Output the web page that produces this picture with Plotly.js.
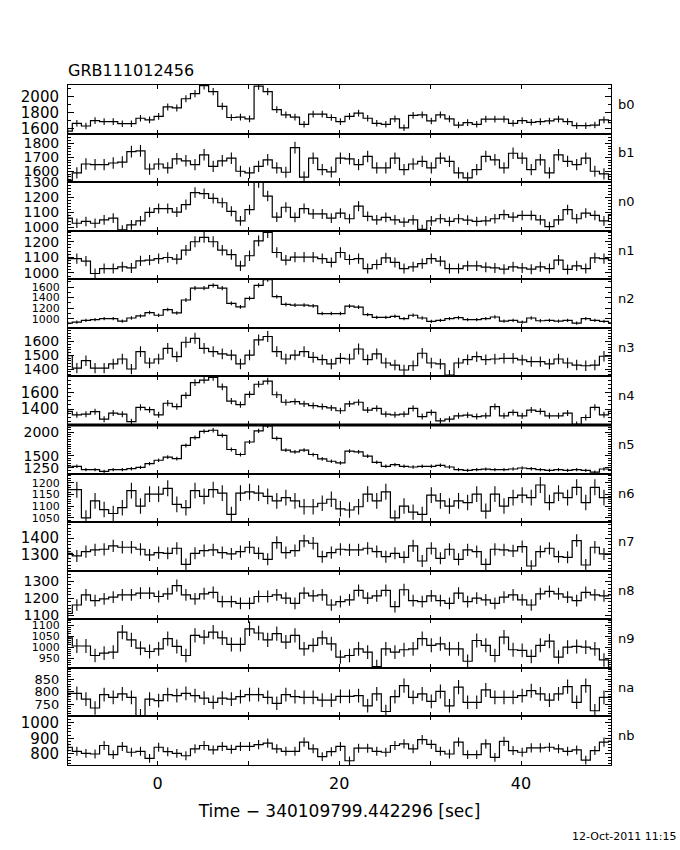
<!DOCTYPE html>
<html>
<head>
<meta charset="utf-8">
<script src="https://cdn.plot.ly/plotly-3.0.1.min.js"></script>
<style>html,body{margin:0;padding:0;background:#fff;}#chart{width:680px;height:850px;}</style>
</head>
<body>
<div id="chart"></div>
<script>
// Bin centres (seconds relative to trigger), 1 s bins
const timeCenters = [-9.875,-8.875,-7.875,-6.875,-5.875,-4.875,-3.875,-2.875,-1.875,-0.875,
  0.125,1.125,2.125,3.125,4.125,5.125,6.125,7.125,8.125,9.125,
  10.125,11.125,12.125,13.125,14.125,15.125,16.125,17.125,18.125,19.125,
  20.125,21.125,22.125,23.125,24.125,25.125,26.125,27.125,28.125,29.125,
  30.125,31.125,32.125,33.125,34.125,35.125,36.125,37.125,38.125,39.125,
  40.125,41.125,42.125,43.125,44.125,45.125,46.125,47.125,48.125,49.125,50.125];

const detectorNames = ['b0','b1','n0','n1','n2','n3','n4','n5','n6','n7','n8','n9','na','nb'];

const b0 = [1570,1668,1634,1702,1689,1689,1663,1663,1731,1710,1753,1872,1859,1974,2038,2136,2063,1880,1740,1744,
  1723,2131,2063,1838,1774,1744,1655,1783,1783,1740,1689,1753,1795,1731,1668,1655,1723,1612,1766,1774,
  1697,1774,1723,1646,1676,1655,1719,1719,1719,1668,1702,1680,1689,1697,1719,1689,1638,1638,1646,1710,1676];
const b1 = [1534,1588,1652,1647,1647,1659,1666,1741,1746,1616,1652,1624,1689,1675,1647,1718,1635,1675,1694,1600,
  1588,1635,1682,1624,1593,1769,1558,1694,1612,1595,1694,1689,1647,1706,1624,1624,1694,1612,1652,1671,
  1624,1694,1671,1588,1553,1612,1706,1682,1624,1729,1694,1612,1682,1588,1718,1671,1647,1694,1600,1581,1541];
const n0 = [1061,1027,1039,1027,1050,1061,982,1016,1043,1100,1125,1125,1102,1152,1232,1225,1193,1164,1107,1043,
  1118,1300,1209,1068,1134,1066,1125,1089,1089,1061,1095,1057,1141,1073,1050,1066,1050,1034,1050,986,
  1043,1057,1039,1057,1048,1039,1043,1057,1084,1068,1080,1080,1050,1005,1050,1118,1057,1095,1080,1043,1084];
const n1 = [1092,1092,1075,996,1028,1028,1039,1032,1077,1082,1092,1099,1088,1146,1200,1228,1200,1146,1118,1045,
  1110,1206,1260,1131,1082,1101,1101,1101,1092,1067,1131,1086,1092,1028,1054,1097,1067,1028,1039,1060,
  1092,1075,1028,1028,1045,1045,1037,1032,1024,1039,1032,1024,1039,1028,1082,1022,1045,1028,1097,1092,1082];
const n2 = [916,935,968,981,1000,1000,955,1013,1052,1116,1065,1174,1110,1355,1581,1581,1632,1581,1290,1226,
  1387,1632,1742,1419,1271,1258,1258,1245,1097,1097,1097,1239,1219,1077,1026,1026,1045,1000,1065,1013,
  948,968,1000,1019,981,981,1000,1032,955,968,935,1013,961,968,955,968,916,1000,968,948,923];
const n3 = [1498,1407,1461,1407,1407,1437,1473,1400,1527,1444,1473,1551,1490,1595,1624,1551,1527,1510,1502,1437,
  1502,1612,1637,1527,1473,1502,1527,1485,1468,1437,1478,1473,1546,1468,1510,1444,1429,1393,1424,1515,
  1444,1437,1356,1444,1468,1490,1468,1473,1478,1478,1466,1454,1454,1437,1473,1444,1429,1424,1429,1493,1493];
const n4 = [1371,1329,1337,1367,1275,1350,1337,1246,1421,1392,1329,1471,1429,1567,1725,1754,1788,1671,1496,1454,
  1579,1704,1742,1575,1483,1492,1463,1442,1429,1413,1379,1463,1483,1387,1408,1337,1329,1337,1408,1308,
  1358,1254,1275,1317,1325,1308,1317,1429,1317,1358,1317,1387,1371,1317,1317,1350,1212,1296,1421,1329,1371];
const n5 = [1268,1283,1211,1211,1176,1211,1211,1232,1261,1338,1410,1474,1445,1721,1884,2018,2040,1933,1636,1530,
  1793,2026,2133,1870,1623,1587,1623,1530,1438,1389,1353,1601,1587,1495,1367,1283,1317,1283,1268,1283,
  1283,1304,1268,1211,1197,1211,1225,1211,1211,1226,1247,1232,1211,1197,1211,1197,1211,1197,1162,1226,1211];
const n6 = [1171,1171,1050,1123,1086,1069,1094,1167,1101,1152,1152,1177,1108,1094,1167,1142,1171,1156,1065,1156,
  1162,1156,1142,1123,1137,1123,1098,1098,1113,1130,1089,1084,1098,1152,1123,1162,1050,1101,1075,1065,
  1148,1123,1101,1123,1116,1152,1079,1152,1101,1137,1148,1137,1191,1116,1156,1137,1181,1116,1181,1137,1137];
const n7 = [1310,1294,1320,1330,1334,1354,1346,1346,1334,1300,1314,1310,1340,1244,1310,1326,1330,1314,1306,1320,
  1346,1310,1274,1374,1314,1326,1384,1370,1290,1314,1334,1330,1330,1340,1320,1290,1310,1286,1354,1264,
  1340,1280,1334,1274,1330,1320,1244,1334,1330,1324,1350,1234,1320,1340,1290,1286,1386,1240,1346,1306,1306];
const n8 = [1110,1160,1220,1186,1196,1206,1220,1220,1230,1230,1210,1226,1274,1220,1196,1226,1234,1180,1180,1170,
  1170,1210,1210,1220,1200,1170,1230,1214,1220,1160,1180,1190,1246,1200,1214,1246,1150,1250,1186,1180,
  1214,1186,1170,1230,1180,1200,1190,1170,1206,1220,1190,1160,1226,1240,1226,1206,1186,1234,1220,1214,1220];
const n9 = [1042,1005,1005,962,973,977,1068,1033,995,980,992,1038,1003,962,1053,1045,1068,1042,1012,1012,
  1083,1064,1033,1061,1023,1053,992,1008,1042,1015,955,962,992,977,912,992,977,988,992,1038,
  1008,1015,992,992,936,1030,1008,962,1045,988,985,958,1008,1027,955,1000,1003,1000,992,942,909];
const na = [793,793,770,734,788,777,791,777,703,770,764,788,784,793,784,774,757,774,770,780,
  788,788,777,753,788,780,777,777,766,766,781,781,784,743,791,720,780,824,777,791,
  761,801,743,818,757,757,807,777,777,777,784,804,791,766,791,820,757,824,723,777,777];
const nb = [843,817,804,800,854,796,848,811,817,772,843,815,804,789,833,854,826,848,830,848,
  848,859,869,833,817,817,876,833,783,815,848,757,837,837,817,811,854,865,833,891,
  861,817,800,876,796,796,865,778,880,822,811,839,839,843,833,817,826,761,822,876,882];

const seriesList = [b0,b1,n0,n1,n2,n3,n4,n5,n6,n7,n8,n9,na,nb];

// y-axis ranges and labelled ticks per panel
const yRanges = [[1540,2145],[1522,1870],[977,1302],[959,1271],[826,1748],[1346,1700],[1204,1800],
  [1130,2150],[1032,1240],[1206,1496],[1076,1362],[906,1126],[700,896],[730,1039]];
const yTickVals = [[1600,1800,2000],[1600,1700,1800],[1000,1100,1200,1300],[1000,1100,1200],
  [1000,1200,1400,1600],[1400,1500,1600],[1400,1600],[1250,1500,2000],[1050,1100,1150,1200],
  [1300,1400],[1100,1200,1300],[900,950,1000,1050,1100],[750,800,850],[800,900,1000]];
const yMinorStep = [100,20,20,20,100,20,50,50,10,20,20,10,10,20];
// label size per panel (smaller where the reference labels are crowded)
const yLabelSize = [15,14,14,14,11,14,15,14,11,15,14,11,13,15];

const xTickVals = [0,10,20,30,40];
const xTickText = ['0','','20','','40'];
const xTitle = 'Time \u2212 340109799.442296 [sec]';
const chartTitle = 'GRB111012456';
const dateStamp = '12-Oct-2011 11:15';

const FONT = 'DejaVu Sans, sans-serif';
const N = seriesList.length;
const traces = [];
const layout = {
  width: 680, height: 850,
  paper_bgcolor: '#fff', plot_bgcolor: '#fff',
  margin: {l: 68, r: 69, t: 85, b: 85, autoexpand: false},
  showlegend: false,
  font: {family: FONT, color: '#000', size: 16},
  title: {text: chartTitle, x: 68/680, xanchor: 'left', y: 1 - 70/850, yanchor: 'middle',
          font: {family: FONT, size: 16, color: '#000'}},
  annotations: [],
  shapes: [{type: 'line', xref: 'paper', yref: 'paper', x0: 0, x1: 1, y0: 0.5, y1: 0.5,
            line: {color: '#000', width: 3}}]
};

seriesList.forEach((vals, i) => {
  const k = i + 1;
  const sfx = k === 1 ? '' : String(k);
  traces.push({
    x: timeCenters, y: vals, type: 'scatter', mode: 'lines',
    line: {shape: 'hvh', color: '#000', width: 1.2},
    error_y: {type: 'data', array: vals.map(v => Math.sqrt(v)), color: '#000', thickness: 1.1, width: 0},
    xaxis: 'x' + sfx, yaxis: 'y' + sfx, hoverinfo: 'skip', showlegend: false
  });
  const isBottom = (k === N);
  layout['xaxis' + sfx] = {
    domain: [0, 1], range: [-9.85, 49.9], anchor: 'y' + sfx,
    tickmode: 'array', tickvals: xTickVals, ticktext: xTickText,
    showticklabels: isBottom, ticks: 'inside', ticklen: 4, tickcolor: '#000', tickwidth: 1,
    showline: true, linecolor: '#000', linewidth: 1, mirror: 'ticks',
    showgrid: false, zeroline: false, fixedrange: true,
    tickfont: {family: FONT, size: 16, color: '#000'},
    ticklabelstandoff: 4
  };
  if (isBottom) {
    layout['xaxis' + sfx].title = {text: xTitle, font: {family: FONT, size: 17, color: '#000'}, standoff: 12};
  }
  layout['yaxis' + sfx] = {
    domain: [1 - k / N, 1 - (k - 1) / N], range: yRanges[i], anchor: 'x' + sfx,
    tickmode: 'array', tickvals: yTickVals[i],
    ticks: 'inside', ticklen: 6, tickcolor: '#000', tickwidth: 1,
    minor: {ticks: 'inside', ticklen: 3, tickcolor: '#000', tickmode: 'linear', tick0: 0, dtick: yMinorStep[i], showgrid: false},
    showline: true, linecolor: '#000', linewidth: 1, mirror: 'ticks',
    showgrid: false, zeroline: false, fixedrange: true,
    tickfont: {family: FONT, size: yLabelSize[i], color: '#000'},
    ticklabelstandoff: 5
  };
  layout.annotations.push({
    text: detectorNames[i], xref: 'paper', yref: 'y' + sfx + ' domain',
    x: 1.01, y: 0.6, xanchor: 'left', yanchor: 'middle', showarrow: false,
    font: {family: FONT, size: 13, color: '#000'}
  });
});

layout.annotations.push({
  text: dateStamp, xref: 'paper', yref: 'paper', x: (678 - 68) / 543, y: (765 - 836) / 680,
  xanchor: 'right', yanchor: 'middle', showarrow: false,
  font: {family: FONT, size: 11, color: '#000'}
});

Plotly.newPlot('chart', traces, layout, {displayModeBar: false, staticPlot: true});
</script>
</body>
</html>
